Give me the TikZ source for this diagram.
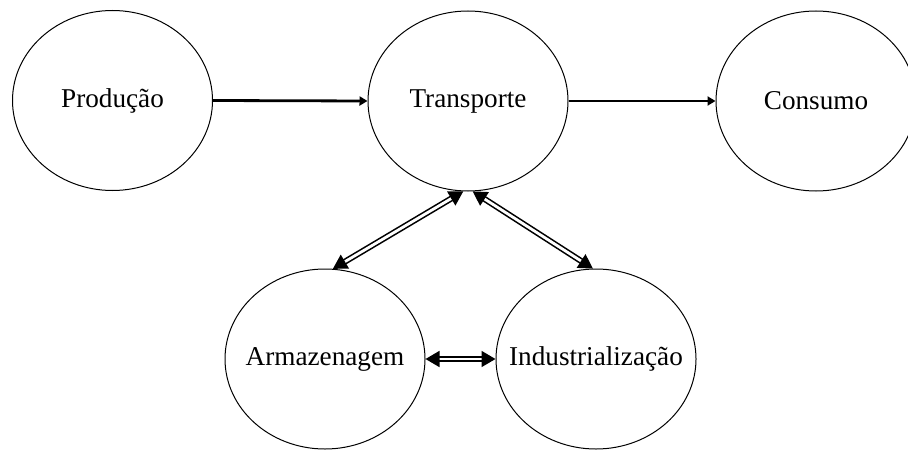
\documentclass[tikz,border=0pt]{standalone}
\usepackage{fontspec}
\setmainfont{Liberation Serif}
\usetikzlibrary{shapes.geometric,arrows.meta}
\tikzstyle{stage}=[draw,ellipse,line width=0.5pt,inner xsep=-30pt,inner ysep=0pt,minimum width=100pt,minimum height=90pt,font=\fontsize{13.6}{16}\selectfont]
\tikzstyle{flow}=[line width=1.4pt,-{Triangle[length=4pt,width=4.5pt]}]
\tikzstyle{exchange}=[double,double distance=1.4pt,line width=0.8pt,{Triangle[length=7pt,width=8pt]}-{Triangle[length=7pt,width=8pt]}]

\begin{document}
\begin{tikzpicture}[x=0.5pt,y=-0.5pt]
	\useasboundingbox (0,0) rectangle (908,449);
	\node[stage] (prod) at (112.5,100.5) {Produção};
	\node[stage] (transp) at (468,101) {Transporte};
	\node[stage] (cons) at (816,101) {Consumo};
	\node[stage] (armaz) at (325,359) {Armazenagem};
	\node[stage] (indust) at (596,359) {Industrialização};
	\draw[flow] (prod.east) -- (transp.west);
	\draw[flow] (transp.east) -- (cons.west);
	\draw[exchange] (transp.267) -- (armaz.85); %armazenagem
	\draw[exchange] (transp.273) -- (indust.92); %industria
	\draw[exchange] (armaz.east) -- (indust.west);
\end{tikzpicture}
\end{document}
